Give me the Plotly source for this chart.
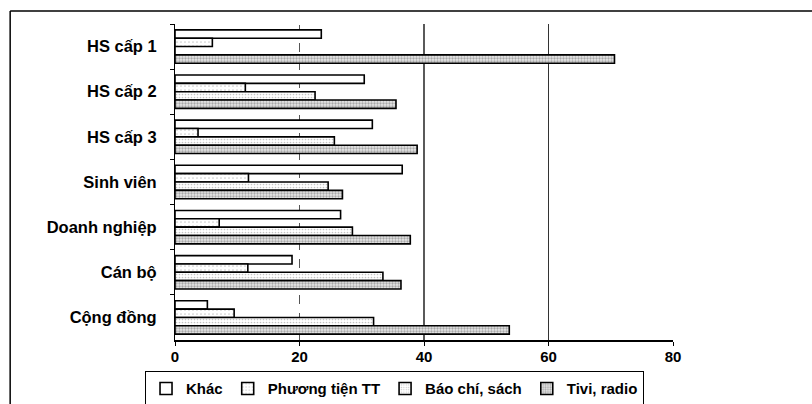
import plotly.graph_objects as go

# Survey groups (top to bottom) and share (%) of each information source
groups = ["HS cấp 1", "HS cấp 2", "HS cấp 3", "Sinh viên",
          "Doanh nghiệp", "Cán bộ", "Cộng đồng"]
series_names = ["Khác", "Phương tiện TT", "Báo chí, sách", "Tivi, radio"]
khac = [23.5, 30.4, 31.7, 36.5, 26.6, 18.8, 5.2]
phuong_tien = [6.0, 11.3, 3.7, 11.8, 7.1, 11.7, 9.5]
bao_chi = [0, 22.5, 25.6, 24.6, 28.5, 33.4, 31.9]
tivi = [70.6, 35.5, 38.9, 26.9, 37.8, 36.3, 53.7]
x_ticks = [0, 20, 40, 60, 80]
grid_values = [20, 40, 60]

values = [khac, phuong_tien, bao_chi, tivi]
patterns = [
    dict(shape="", bgcolor="white"),
    dict(shape=".", bgcolor="white", fgcolor="#9a9a9a", size=4, solidity=0.15),
    dict(shape=".", bgcolor="white", fgcolor="#8a8a8a", size=3, solidity=0.25),
    dict(shape=".", bgcolor="#e6e6e6", fgcolor="#6a6a6a", size=3, solidity=0.45),
]

FONT = "Liberation Sans, Arial, sans-serif"

fig = go.Figure()
for name, vals, pat in zip(series_names, values, patterns):
    fig.add_trace(go.Bar(
        y=groups, x=vals, name=name, orientation="h",
        marker=dict(color="white", pattern=pat,
                    line=dict(color="black", width=1.6)),
    ))

# Vertical gridlines: dashed at 20, solid at 40 and 60
grid_styles = {20: dict(color="#555555", width=1, dash="dash"),
               40: dict(color="black", width=1.3, dash="solid"),
               60: dict(color="#333333", width=1, dash="solid")}
shapes = []
for gv in grid_values:
    shapes.append(dict(type="line", xref="x", yref="paper", x0=gv, x1=gv,
                       y0=0, y1=1, line=grid_styles[gv], layer="below"))

# Outer frame: top and left edges of the chart border
frame = dict(color="black", width=1.5)
shapes.append(dict(type="line", xref="paper", yref="paper",
                   x0=-0.331, x1=1.3, y0=1.041, y1=1.041, line=frame))
shapes.append(dict(type="line", xref="paper", yref="paper",
                   x0=-0.331, x1=-0.331, y0=1.041, y1=-0.3, line=frame))

fig.update_layout(
    width=812, height=404,
    margin=dict(l=175, r=139, t=24, b=64, autoexpand=False),
    paper_bgcolor="white", plot_bgcolor="white",
    barmode="group", bargap=0.26, bargroupgap=0,
    font=dict(family=FONT, size=14, color="black"),
    shapes=shapes,
    showlegend=True,
    legend=dict(
        orientation="h", xref="container", yref="container",
        x=0.1786, y=0.081, xanchor="left", yanchor="top",
        bordercolor="black", borderwidth=1, bgcolor="white",
        font=dict(family=FONT, size=15, color="black", weight="bold"),
        itemwidth=30, entrywidth=0, traceorder="normal",
        tracegroupgap=0,
    ),
    xaxis=dict(
        range=[0, 80], tickvals=x_ticks, ticktext=[str(v) for v in x_ticks],
        showgrid=False, zeroline=False, automargin=False,
        showline=True, linecolor="black", linewidth=1.5,
        ticks="outside", ticklen=4, tickcolor="black",
        ticklabelstandoff=-2,
        tickfont=dict(family=FONT, size=15, color="black", weight="bold"),
        fixedrange=True,
    ),
    yaxis=dict(
        categoryorder="array", categoryarray=groups,
        autorange="reversed",
        showgrid=False, zeroline=False, automargin=False,
        showline=True, linecolor="black", linewidth=1,
        ticks="outside", ticklen=4, tickcolor="black",
        tickson="boundaries", ticklabelstandoff=14,
        tickfont=dict(family=FONT, size=16.5, color="black", weight="bold"),
        fixedrange=True,
    ),
)

fig.write_html("out.html")
